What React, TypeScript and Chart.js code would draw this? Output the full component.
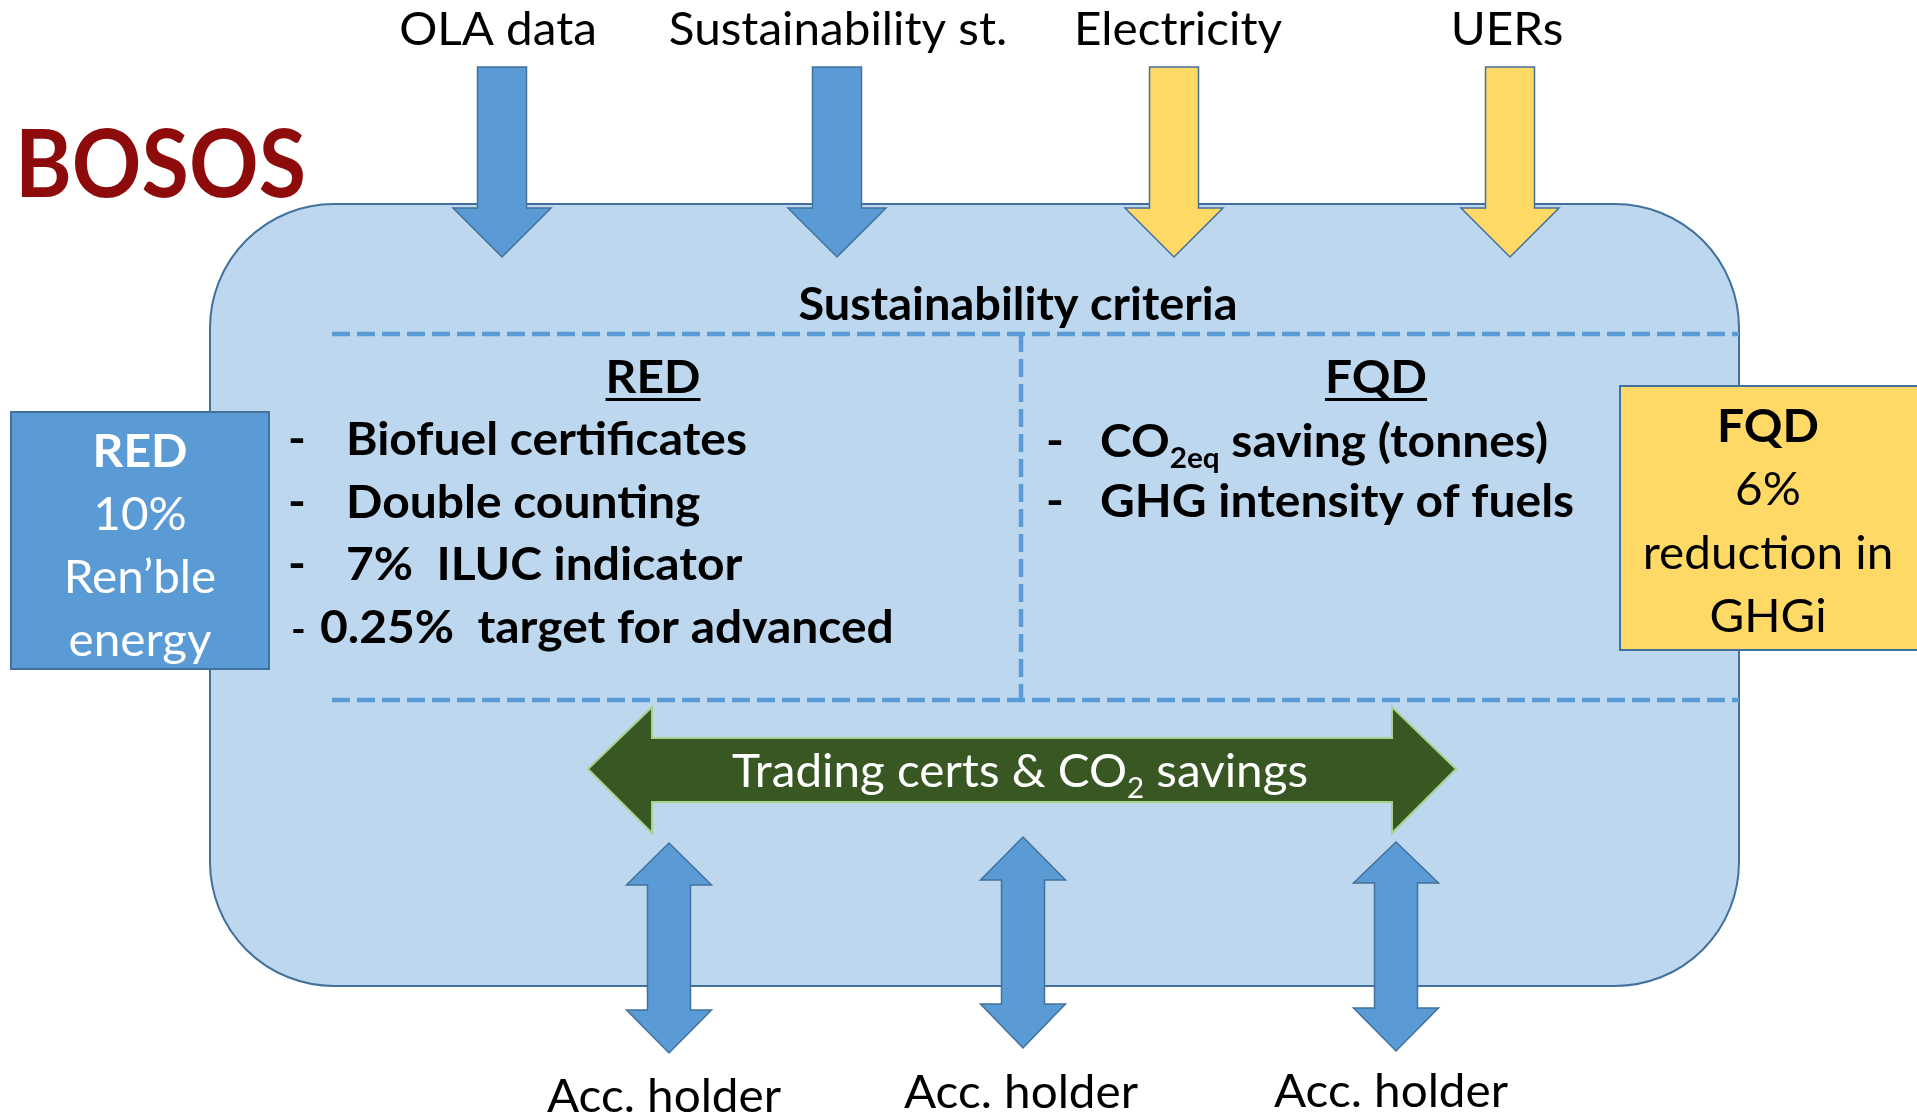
import { useEffect, useRef } from 'react';
import { Chart, registerables } from 'chart.js';

Chart.register(...registerables);

// ---------- content (data) ----------
const title = 'BOSOS';
const inputLabels = ['OLA data', 'Sustainability st.', 'Electricity', 'UERs'];
const inputKinds = ['blue', 'blue', 'yellow', 'yellow'];
const criteriaTitle = 'Sustainability criteria';
const redHeader = 'RED';
const redItems = ['Biofuel certificates', 'Double counting', '7%  ILUC indicator', '0.25%  target for advanced'];
const fqdHeader = 'FQD';
const fqdItems = ['CO_{2eq} saving (tonnes)', 'GHG intensity of fuels'];
const redTargetLines = ['RED', '10%', 'Ren\u2019ble', 'energy'];
const fqdTargetLines = ['FQD', '6%', 'reduction in', 'GHGi'];
const tradingLabel = 'Trading certs & CO_{2} savings';
const holderLabels = ['Acc. holder', 'Acc. holder', 'Acc. holder'];

// ---------- layout (positions in diagram units = reference pixels) ----------
const W = 1917;
const H = 1118;
const inputX = [502, 837, 1174, 1510];
const inputLabelX = [498, 838, 1178, 1507];
const holderX = [669, 1023, 1396];
const holderLabelX = [664, 1021, 1391];
const holderLabelY = [1112, 1108, 1107];
const holderArrowY = [
  [843, 885, 1010, 1053],
  [837, 880, 1004, 1048],
  [842, 883, 1008, 1051],
];
const redItemY = [455, 518, 580, 643];
const fqdItemY = [457, 517];
const redBoxY = [467, 530, 593, 656];
const fqdBoxY = [442, 505, 569, 632];
const titleWidth = 291;

const FONT = 'Lato, "Open Sans", "Noto Sans", sans-serif';
const C = {
  box: '#BDD7EE',
  boxEdge: '#41719C',
  blue: '#5B9BD5',
  yellow: '#FFD966',
  green: '#385723',
  greenEdge: '#A9D18E',
  title: '#8E0B0B',
  text: '#000000',
  white: '#FFFFFF',
};

type Part = { t: string; sub: boolean };
function parse(s: string): Part[] {
  const out: Part[] = [];
  const re = /_\{([^}]*)\}/g;
  let last = 0;
  let m: RegExpExecArray | null;
  while ((m = re.exec(s))) {
    if (m.index > last) out.push({ t: s.slice(last, m.index), sub: false });
    out.push({ t: m[1], sub: true });
    last = m.index + m[0].length;
  }
  if (last < s.length) out.push({ t: s.slice(last), sub: false });
  return out;
}

const diagramPlugin = {
  id: 'bososDiagram',
  afterDraw(chart: any) {
    const ctx: CanvasRenderingContext2D = chart.ctx;
    const xs = chart.scales.x;
    const ys = chart.scales.y;
    const px = (v: number) => xs.getPixelForValue(v);
    const py = (v: number) => ys.getPixelForValue(v);
    const k = px(1) - px(0);

    const font = (size: number, bold: boolean) => `${bold ? 'bold ' : ''}${size * k}px ${FONT}`;
    ctx.font = font(46, false);
    const sxReg = 234 / (ctx.measureText('Acc. holder').width / k);
    ctx.font = font(46, true);
    const sxBold = 401 / (ctx.measureText('Biofuel certificates').width / k);

    const text = (
      s: string, x: number, y: number, align: string, size: number, bold: boolean, color: string, fitW?: number
    ) => {
      const parts = parse(s);
      const widths = parts.map((p) => {
        ctx.font = font(p.sub ? size * 0.62 : size, bold);
        return ctx.measureText(p.t).width;
      });
      const raw = widths.reduce((a, b) => a + b, 0);
      const sx = fitW ? (fitW * k) / raw : bold ? sxBold : sxReg;
      const total = raw * sx;
      let x0 = px(x);
      if (align === 'center') x0 -= total / 2;
      else if (align === 'right') x0 -= total;
      ctx.save();
      ctx.translate(x0, py(y));
      ctx.scale(sx, 1);
      ctx.fillStyle = color;
      ctx.textBaseline = 'alphabetic';
      ctx.textAlign = 'left';
      let cur = 0;
      parts.forEach((p, i) => {
        ctx.font = font(p.sub ? size * 0.62 : size, bold);
        ctx.fillText(p.t, cur, p.sub ? size * 0.24 * k : 0);
        cur += widths[i];
      });
      ctx.restore();
      return { left: x0, width: total };
    };

    const poly = (pts: number[][], fill: string, stroke: string, lw: number) => {
      ctx.beginPath();
      pts.forEach(([x, y], i) => (i ? ctx.lineTo(px(x), py(y)) : ctx.moveTo(px(x), py(y))));
      ctx.closePath();
      ctx.fillStyle = fill;
      ctx.fill();
      ctx.lineWidth = lw * k;
      ctx.strokeStyle = stroke;
      ctx.lineJoin = 'miter';
      ctx.stroke();
    };

    const rect = (x0: number, y0: number, x1: number, y1: number, fill: string, stroke: string) => {
      ctx.beginPath();
      ctx.rect(px(x0), py(y0), px(x1) - px(x0), py(y1) - py(y0));
      ctx.fillStyle = fill;
      ctx.fill();
      ctx.lineWidth = 2 * k;
      ctx.strokeStyle = stroke;
      ctx.stroke();
    };

    ctx.save();
    ctx.fillStyle = '#FFFFFF';
    ctx.fillRect(0, 0, chart.width, chart.height);
    ctx.restore();

    // main rounded box
    {
      const x0 = px(210), x1 = px(1739), y0 = py(204), y1 = py(986), r = 124 * k;
      ctx.beginPath();
      ctx.moveTo(x0 + r, y0);
      ctx.arcTo(x1, y0, x1, y1, r);
      ctx.arcTo(x1, y1, x0, y1, r);
      ctx.arcTo(x0, y1, x0, y0, r);
      ctx.arcTo(x0, y0, x1, y0, r);
      ctx.closePath();
      ctx.fillStyle = C.box;
      ctx.fill();
      ctx.lineWidth = 2 * k;
      ctx.strokeStyle = C.boxEdge;
      ctx.stroke();
    }

    // title
    text(title, 15, 197, 'left', 93, true, C.title, titleWidth);

    // input arrows + labels
    inputX.forEach((cx, i) => {
      const sw = 49 / 2, hw = 98 / 2;
      poly(
        [[cx - sw, 67], [cx + sw, 67], [cx + sw, 208], [cx + hw, 208], [cx, 257], [cx - hw, 208], [cx - sw, 208]],
        inputKinds[i] === 'yellow' ? C.yellow : C.blue,
        C.boxEdge,
        1.5
      );
      text(inputLabels[i], inputLabelX[i], 45, 'center', 46, false, C.text);
    });

    // dashed dividers
    ctx.save();
    ctx.strokeStyle = C.blue;
    ctx.lineWidth = 4.5 * k;
    ctx.setLineDash([18 * k, 7 * k]);
    ctx.beginPath();
    ctx.moveTo(px(332), py(334));
    ctx.lineTo(px(1739), py(334));
    ctx.moveTo(px(332), py(700));
    ctx.lineTo(px(1739), py(700));
    ctx.stroke();
    ctx.beginPath();
    ctx.moveTo(px(1021), py(334));
    ctx.lineTo(px(1021), py(700));
    ctx.stroke();
    ctx.restore();

    text(criteriaTitle, 1018, 320, 'center', 45, true, C.text);

    const header = (s: string, cx: number) => {
      const r = text(s, cx, 393, 'center', 46, true, C.text);
      ctx.fillStyle = C.text;
      ctx.fillRect(r.left, py(398), r.width, 3 * k);
    };
    header(redHeader, 653);
    header(fqdHeader, 1376);

    redItems.forEach((s, i) => {
      const last = i === redItems.length - 1;
      text('-', last ? 291 : 288, redItemY[i], 'left', last ? 38 : 46, true, C.text);
      text(s, last ? 320 : 346, redItemY[i], 'left', 46, true, C.text);
    });
    fqdItems.forEach((s, i) => {
      text('-', 1046, fqdItemY[i], 'left', 46, true, C.text);
      text(s, 1100, fqdItemY[i], 'left', 46, true, C.text);
    });

    // trading double arrow
    poly(
      [[588, 769], [652, 707], [652, 738], [1392, 738], [1392, 707], [1456, 769], [1392, 833], [1392, 802], [652, 802], [652, 833]],
      C.green,
      C.greenEdge,
      2
    );
    text(tradingLabel, 1020, 787, 'center', 46, false, C.white);

    // account holder arrows
    holderX.forEach((cx, i) => {
      const [t, tb, bb, b] = holderArrowY[i];
      const sw = 43 / 2, hw = 85 / 2;
      poly(
        [[cx, t], [cx + hw, tb], [cx + sw, tb], [cx + sw, bb], [cx + hw, bb], [cx, b], [cx - hw, bb], [cx - sw, bb], [cx - sw, tb], [cx - hw, tb]],
        C.blue,
        C.boxEdge,
        1.5
      );
      text(holderLabels[i], holderLabelX[i], holderLabelY[i], 'center', 46, false, C.text);
    });

    // target boxes
    rect(11, 412, 269, 669, C.blue, C.boxEdge);
    redTargetLines.forEach((s, i) => text(s, 140, redBoxY[i], 'center', 46, i === 0, C.white));
    rect(1620, 386, 1918, 650, C.yellow, C.boxEdge);
    fqdTargetLines.forEach((s, i) => text(s, 1768, fqdBoxY[i], 'center', 46, i === 0, C.text));
  },
};

export default function App() {
  const ref = useRef<HTMLCanvasElement | null>(null);
  useEffect(() => {
    if (!ref.current) return;
    const chart = new Chart(ref.current, {
      type: 'scatter',
      data: { datasets: [{ data: [], pointRadius: 0 }] },
      options: {
        animation: false,
        responsive: false,
        maintainAspectRatio: false,
        events: [],
        layout: { padding: 0 },
        plugins: { legend: { display: false }, tooltip: { enabled: false } },
        scales: {
          x: { type: 'linear', min: 0, max: W, display: false },
          y: { type: 'linear', min: 0, max: H, reverse: true, display: false },
        },
      },
      plugins: [diagramPlugin],
    } as any);
    return () => chart.destroy();
  }, []);
  return (
    <div style={{ position: 'fixed', left: 0, top: 0, width: W, height: H, background: '#fff' }}>
      <canvas ref={ref} width={W} height={H} style={{ display: 'block', width: W, height: H }} />
    </div>
  );
}
